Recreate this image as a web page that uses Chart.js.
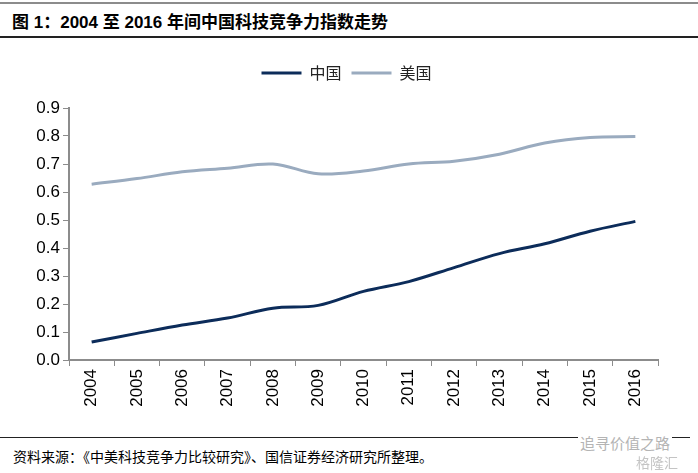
<!DOCTYPE html>
<html>
<head>
<meta charset="utf-8">
<script src="https://cdn.jsdelivr.net/npm/chart.js@4/dist/chart.umd.min.js"></script>
<style>
  html, body { margin: 0; padding: 0; background: #fff; }
  body { width: 698px; height: 473px; position: relative; overflow: hidden;
         font-family: "Liberation Sans", "Noto Sans CJK SC", sans-serif; }
  .rule-top { position: absolute; left: 0; top: 2px; width: 698px; height: 2px; background: #8c8c8c; }
  .title { position: absolute; left: 12px; top: 8px; font-size: 17px; font-weight: bold; color: #000;
           font-family: "Liberation Sans", "Noto Sans CJK SC", sans-serif; }
  .rule-mid { position: absolute; left: 0; top: 36px; width: 698px; height: 2px; background: #222; }
  .rule-foot { position: absolute; left: 0; top: 437px; width: 690px; height: 1px; background: #222; }
  .source { position: absolute; left: 13px; top: 446px; font-size: 14px; color: #000;
            font-family: "Noto Sans CJK SC", sans-serif; }
  .wm1 { position: absolute; left: 578px; top: 432px; font-size: 15px; color: #b4b4b4; background: #fff;
         padding: 0 2px; font-family: "Noto Sans CJK SC", sans-serif; }
  .wm2 { position: absolute; left: 636px; top: 452px; font-size: 14px; color: #c4c4c4;
         font-family: "Noto Sans CJK SC", sans-serif; }
  #wrap { position: absolute; left: 0; top: 40px; width: 698px; height: 400px; }
</style>
</head>
<body>
<div class="rule-top"></div>
<div class="title">图 1：2004 至 2016 年间中国科技竞争力指数走势</div>
<div class="rule-mid"></div>
<div id="wrap"><canvas id="chart"></canvas></div>
<div class="rule-foot"></div>
<div class="source">资料来源：《中美科技竞争力比较研究》、国信证券经济研究所整理。</div>
<div class="wm1">追寻价值之路</div>
<div class="wm2">格隆汇</div>
<script>
// Chart data
const years = ['2004', '2005', '2006', '2007', '2008', '2009', '2010',
               '2011', '2012', '2013', '2014', '2015', '2016'];
const chinaIndex = [0.064, 0.095, 0.125, 0.150, 0.185, 0.195, 0.245,
                    0.280, 0.330, 0.380, 0.415, 0.460, 0.495];
const usIndex = [0.628, 0.648, 0.672, 0.685, 0.700, 0.665, 0.675,
                 0.700, 0.710, 0.735, 0.775, 0.795, 0.798];

const axisColor = '#8c8c8c';
const tickFont = { family: 'Liberation Sans, Arial, sans-serif', size: 17 };

// leave a gap between the legend row and the plot area
const legendGap = {
  id: 'legendGap',
  afterInit(chart) {
    const legend = chart.legend;
    if (!legend) return;
    const fit = legend.fit;
    legend.fit = function() {
      fit.call(this);
      this.height += 17;
    };
  }
};

new Chart(document.getElementById('chart'), {
  type: 'line',
  data: {
    labels: years,
    datasets: [{
      label: '中国',
      data: chinaIndex,
      borderColor: '#0c2c5a',
      backgroundColor: '#0c2c5a',
      borderWidth: 3,
      pointRadius: 0,
      tension: 0.35
    }, {
      label: '美国',
      data: usIndex,
      borderColor: '#9aabbf',
      backgroundColor: '#9aabbf',
      borderWidth: 3,
      pointRadius: 0,
      tension: 0.35
    }]
  },
  options: {
    responsive: true,
    maintainAspectRatio: false,
    animation: false,
    layout: { padding: { top: 15, right: 40, left: 35, bottom: 0 } },
    plugins: {
      legend: {
        display: true,
        position: 'top',
        labels: {
          usePointStyle: true,
          pointStyle: 'line',
          pointStyleWidth: 40,
          padding: 10,
          color: '#222',
          font: { family: 'Noto Sans CJK SC, sans-serif', size: 16 }
        }
      },
      tooltip: { enabled: false }
    },
    scales: {
      x: {
        offset: true,
        grid: { display: true, drawOnChartArea: false, offset: true, color: axisColor, tickLength: 6 },
        border: { color: axisColor, width: 2 },
        ticks: { color: '#000', font: tickFont, minRotation: 90, maxRotation: 90, padding: 3 },
        afterFit: function(scale) { scale.height = 80; }
      },
      y: {
        min: 0,
        max: 0.9,
        grid: { display: true, drawOnChartArea: false, color: axisColor, tickLength: 6 },
        border: { color: axisColor, width: 2 },
        ticks: {
          stepSize: 0.1,
          color: '#000',
          font: tickFont,
          padding: 3,
          callback: function(value) { return value.toFixed(1); }
        },
        afterFit: function(scale) { scale.width = 34; }
      }
    }
  },
  plugins: [legendGap]
});
</script>
</body>
</html>
